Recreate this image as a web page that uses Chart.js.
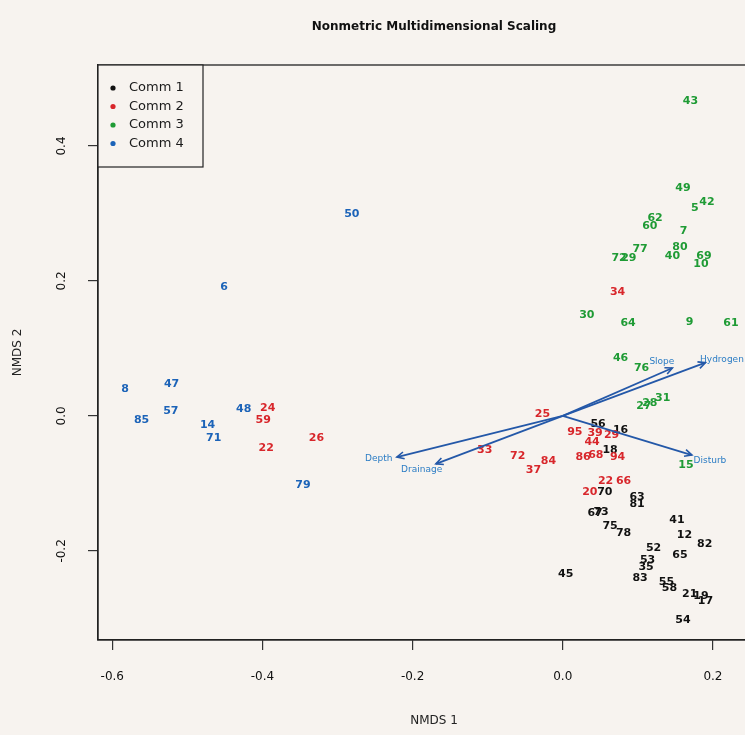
<!DOCTYPE html>
<html><head><meta charset="utf-8">
<script src="https://cdn.jsdelivr.net/npm/chart.js@4"></script>
<style>
html,body{margin:0;padding:0;background:#f7f3ef;overflow:hidden;}
#wrap{width:745px;height:735px;overflow:hidden;position:relative;}
canvas{display:block;}
</style></head><body>
<div id="wrap"><canvas id="c" width="770" height="735"></canvas></div>
<script>
// ---- data ----
const comm1Labels = ['56','16','18','70','63','81','67','73','75','78','41','12','82','52','65','53','35','83','45','55','58','21','19','17','54'];
const comm1X = [0.047,0.077,0.063,0.056,0.099,0.099,0.043,0.051,0.063,0.081,0.152,0.162,0.189,0.121,0.156,0.113,0.111,0.103,0.004,0.138,0.142,0.169,0.184,0.190,0.160];
const comm1Y = [-0.012,-0.021,-0.050,-0.113,-0.120,-0.130,-0.144,-0.142,-0.164,-0.173,-0.154,-0.176,-0.190,-0.196,-0.206,-0.213,-0.224,-0.241,-0.234,-0.246,-0.255,-0.264,-0.267,-0.274,-0.302];

const comm2Labels = ['24','59','22','26','33','25','72','37','84','34','95','39','29','44','86','68','94','22','66','20'];
const comm2X = [-0.393,-0.399,-0.395,-0.328,-0.104,-0.027,-0.060,-0.039,-0.019,0.073,0.016,0.043,0.065,0.039,0.027,0.044,0.073,0.057,0.081,0.036];
const comm2Y = [0.012,-0.006,-0.047,-0.033,-0.050,0.003,-0.059,-0.080,-0.067,0.184,-0.024,-0.025,-0.028,-0.039,-0.061,-0.058,-0.061,-0.096,-0.096,-0.113];

const comm3Labels = ['43','49','5','42','62','60','7','77','72','29','80','40','69','10','30','64','9','61','46','76','27','28','31','15'];
const comm3X = [0.170,0.160,0.176,0.192,0.123,0.116,0.161,0.103,0.075,0.088,0.156,0.146,0.188,0.184,0.032,0.087,0.169,0.224,0.077,0.105,0.108,0.116,0.133,0.164];
const comm3Y = [0.467,0.338,0.308,0.317,0.293,0.281,0.274,0.247,0.234,0.234,0.250,0.237,0.237,0.225,0.150,0.138,0.139,0.138,0.086,0.071,0.015,0.019,0.027,-0.073];

const comm4Labels = ['50','6','8','47','57','85','14','71','48','79'];
const comm4X = [-0.281,-0.451,-0.583,-0.521,-0.522,-0.561,-0.473,-0.465,-0.425,-0.346];
const comm4Y = [0.299,0.191,0.040,0.047,0.007,-0.006,-0.013,-0.033,0.010,-0.102];

const arrowNames = ['Depth','Drainage','Disturb','Slope','Hydrogen'];
const arrowEndX = [-0.221,-0.169,0.172,0.146,0.190];
const arrowEndY = [-0.061,-0.071,-0.058,0.071,0.079];
const arrowLabelX = [-0.245,-0.188,0.196,0.132,0.212];
const arrowLabelY = [-0.064,-0.080,-0.067,0.080,0.083];

const groupNames = ['Comm 1','Comm 2','Comm 3','Comm 4'];
const xTickValues = [-0.6,-0.4,-0.2,0.0,0.2];
const yTickValues = [-0.2,0.0,0.2,0.4];

// ---- styles ----
const groupColors = ['#111111','#d8262b','#1f9b35','#1c63b8'];
const arrowColor = '#2458a8';
const arrowTextColor = '#2b7cc4';
const BG = '#f7f3ef';
const FONT = '"DejaVu Sans", "Liberation Sans", sans-serif';

function pts(xs, ys){ return xs.map((x,i)=>({x:x, y:ys[i]})); }

const groups = [
  {labels: comm1Labels, data: pts(comm1X, comm1Y)},
  {labels: comm2Labels, data: pts(comm2X, comm2Y)},
  {labels: comm3Labels, data: pts(comm3X, comm3Y)},
  {labels: comm4Labels, data: pts(comm4X, comm4Y)}
];

const datasets = [];
groups.forEach((g,i)=>{
  datasets.push({type:'scatter', label: groupNames[i], data: g.data, siteLabels: g.labels,
    pointRadius:0, pointHoverRadius:0, backgroundColor: groupColors[i], borderColor: groupColors[i], isSites:true});
});
arrowNames.forEach((n,i)=>{
  datasets.push({type:'line', label:n, data:[{x:0,y:0},{x:arrowEndX[i],y:arrowEndY[i]}],
    borderColor: arrowColor, borderWidth:1.8, pointRadius:0, showLine:true, fill:false, isArrow:true, arrowIndex:i});
});

const drawPlugin = {
  id:'nmds',
  beforeDraw(chart){
    const ctx = chart.ctx;
    ctx.save(); ctx.fillStyle = BG; ctx.fillRect(0,0,chart.width,chart.height); ctx.restore();
  },
  beforeDatasetsDraw(chart){
    const ctx = chart.ctx;
    ctx.save();
    ctx.font = 'bold 11px ' + FONT;
    ctx.textAlign = 'center'; ctx.textBaseline = 'middle';
    chart.data.datasets.forEach((ds, di)=>{
      if(!ds.isSites) return;
      const meta = chart.getDatasetMeta(di);
      ctx.fillStyle = ds.borderColor;
      meta.data.forEach((el, i)=>{ ctx.fillText(ds.siteLabels[i], el.x, el.y); });
    });
    ctx.restore();
  },
  afterDatasetsDraw(chart){
    const ctx = chart.ctx;
    const xs = chart.scales.x, ys = chart.scales.y;
    ctx.save();
    chart.data.datasets.forEach((ds, di)=>{
      if(!ds.isArrow) return;
      const meta = chart.getDatasetMeta(di);
      const a = meta.data[0], b = meta.data[1];
      const ang = Math.atan2(b.y-a.y, b.x-a.x);
      const L = 8, s = 0.45;
      ctx.strokeStyle = arrowColor; ctx.lineWidth = 1.6;
      ctx.beginPath();
      ctx.moveTo(b.x - L*Math.cos(ang - s), b.y - L*Math.sin(ang - s));
      ctx.lineTo(b.x, b.y);
      ctx.lineTo(b.x - L*Math.cos(ang + s), b.y - L*Math.sin(ang + s));
      ctx.stroke();
      const k = ds.arrowIndex;
      ctx.fillStyle = arrowTextColor;
      ctx.font = '9px ' + FONT;
      ctx.textAlign = 'center'; ctx.textBaseline = 'middle';
      ctx.fillText(arrowNames[k], xs.getPixelForValue(arrowLabelX[k]), ys.getPixelForValue(arrowLabelY[k]));
    });
    ctx.restore();
  },
  afterDraw(chart){
    const ctx = chart.ctx, ca = chart.chartArea;
    ctx.save();
    // frame
    ctx.strokeStyle = '#222'; ctx.lineWidth = 1.3;
    ctx.strokeRect(ca.left, ca.top, ca.right-ca.left, ca.bottom-ca.top);
    // title
    ctx.fillStyle = '#111';
    ctx.font = 'bold 12px ' + FONT;
    ctx.textAlign = 'center'; ctx.textBaseline = 'middle';
    ctx.fillText('Nonmetric Multidimensional Scaling', (ca.left+ca.right)/2, 27);
    // legend
    const lw = 105, lh = 102;
    ctx.fillStyle = BG;
    ctx.fillRect(ca.left, ca.top, lw, lh);
    ctx.strokeStyle = '#222'; ctx.lineWidth = 1.2;
    ctx.strokeRect(ca.left, ca.top, lw, lh);
    groupNames.forEach((n,i)=>{
      const y = ca.top + 23 + i*18.5;
      ctx.fillStyle = groupColors[i];
      ctx.beginPath(); ctx.arc(ca.left+15, y, 2.6, 0, Math.PI*2); ctx.fill();
      ctx.fillStyle = '#1a1a1a';
      ctx.font = '13px ' + FONT;
      ctx.textAlign = 'left'; ctx.textBaseline = 'middle';
      ctx.fillText(n, ca.left+31, y);
    });
    ctx.restore();
  }
};

new Chart(document.getElementById('c'), {
  data: {datasets: datasets},
  options: {
    responsive:false, animation:false,
    layout:{padding:{top:65,left:0,right:0,bottom:0}},
    plugins:{legend:{display:false}, tooltip:{enabled:false}, title:{display:false}},
    scales:{
      x:{type:'linear', min:-0.619, max:0.276,
        afterFit: s=>{ s.height = 95; },
        afterBuildTicks: s=>{ s.ticks = xTickValues.map(v=>({value:v})); },
        grid:{drawOnChartArea:false, drawTicks:true, tickLength:10, color:'#333', lineWidth:1.2},
        border:{display:true, color:'#222', width:1.3},
        ticks:{font:{size:12, family:FONT}, color:'#111', padding:20, maxRotation:0, callback:v=>Number(v).toFixed(1)},
        title:{display:true, text:'NMDS 1', font:{size:12, family:FONT}, color:'#222', padding:{bottom:7}}
      },
      y:{type:'linear', min:-0.332, max:0.520,
        afterFit: s=>{ s.width = 98; },
        afterBuildTicks: s=>{ s.ticks = yTickValues.map(v=>({value:v})); },
        grid:{drawOnChartArea:false, drawTicks:true, tickLength:10, color:'#333', lineWidth:1.2},
        border:{display:true, color:'#222', width:1.3},
        ticks:{font:{size:12, family:FONT}, color:'#111', padding:14, minRotation:90, maxRotation:90, crossAlign:'center', callback:v=>Number(v).toFixed(1)},
        title:{display:true, text:'NMDS 2', font:{size:12, family:FONT}, color:'#222', padding:{top:11}}
      }
    }
  },
  plugins:[drawPlugin]
});
</script>
</body></html>
